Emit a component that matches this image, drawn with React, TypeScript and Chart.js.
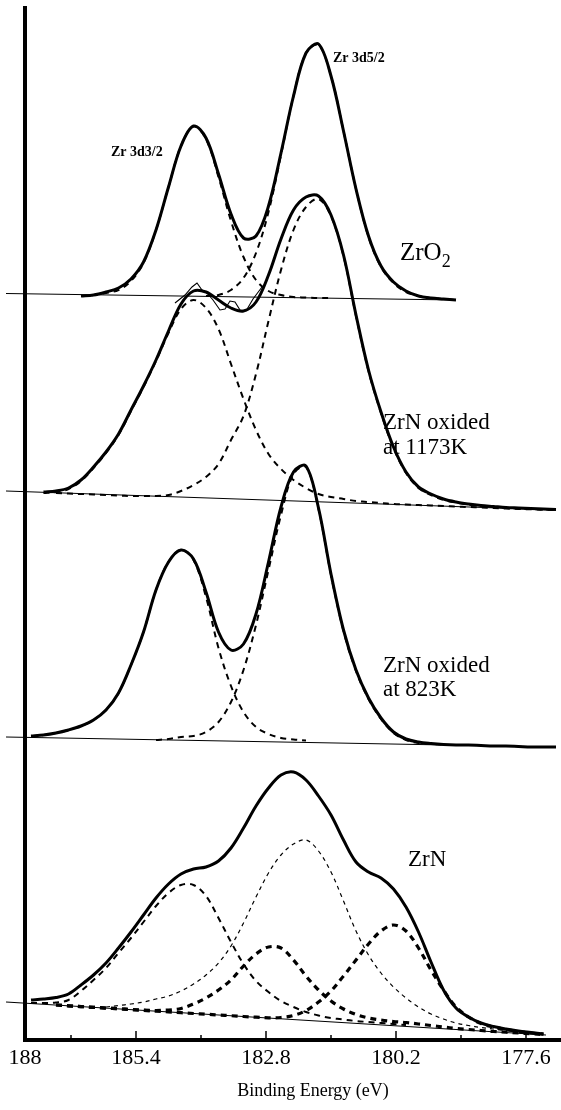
import React, { useEffect, useRef } from "react";
import { Chart, registerables } from "chart.js";

Chart.register(...registerables);

// Binding energy grid (eV) shared by all fitted curves
const ENERGY = [
  187.5, 187.25, 187.0, 186.75, 186.5, 186.25, 186.0, 185.75, 185.5, 185.25,
  185.0, 184.75, 184.5, 184.25, 184.0, 183.75, 183.5, 183.25, 183.0, 182.75,
  182.5, 182.25, 182.0, 181.75, 181.5, 181.25, 181.0, 180.75, 180.5, 180.25,
  180.0, 179.75, 179.5, 179.25, 179.0, 178.75, 178.5, 178.25, 178.0, 177.75,
  177.5, 177.25, 177.0,
];

const _ = null;

// ZrO2 (top spectrum)
const ZRO2_TOTAL = [_, _, _, _, 74.4, 74.5, 74.8, 75.2, 76.1, 77.8, 81.0, 85.3, 89.4, 91.4, 90.2, 86.6, 82.6, 80.2, 80.4, 83.4, 88.7, 94.4, 98.7, 99.6, 96.4, 90.9, 85.1, 80.4, 77.4, 75.8, 74.9, 74.4, 74.2, 74.1, 74.0, _, _, _, _, _, _, _, _];
const ZRO2_3D32 = [_, _, _, _, 74.4, 74.5, 74.7, 75.0, 75.9, 77.7, 81.0, 85.3, 89.4, 91.35, 90.1, 86.3, 81.9, 78.3, 76.0, 74.9, 74.5, 74.3, 74.25, 74.2, 74.2, _, _, _, _, _, _, _, _, _, _, _, _, _, _, _, _, _, _];
const ZRO2_3D52 = [_, _, _, _, _, _, _, _, _, _, _, _, _, _, 74.4, 74.5, 75.0, 76.2, 78.7, 82.8, 88.5, 94.4, 98.7, 99.5, 96.4, 90.9, 85.1, 80.3, 77.3, 75.7, 74.8, 74.4, 74.2, 74.1, 74.0, _, _, _, _, _, _, _, _];
const ZRO2_BASE_E = [188.0, 179.0];
const ZRO2_BASE_I = [74.65, 74.0];

// ZrN oxided at 1173K
const OX1173_TOTAL = [_, 54.8, 54.9, 55.2, 56.0, 57.3, 58.8, 60.6, 63.0, 65.4, 68.0, 70.9, 73.6, 74.9, 74.8, 74.0, 73.2, 72.9, 73.8, 76.5, 80.1, 83.0, 84.3, 84.4, 82.5, 78.5, 72.5, 67.0, 62.8, 59.3, 56.8, 55.3, 54.6, 54.1, 53.8, 53.6, 53.45, 53.35, 53.25, 53.2, 53.15, 53.1, 53.05];
const OX1173_C1 = [_, 54.7, 54.8, 55.1, 55.9, 57.2, 58.7, 60.5, 62.9, 65.3, 67.9, 70.7, 73.1, 74.0, 73.2, 71.1, 67.6, 64.1, 61.0, 58.6, 57.1, 56.0, 55.2, 54.6, 54.3, 54.1, 53.9, 53.8, 53.7, 53.6, 53.55, 53.5, 53.45, 53.4, 53.35, 53.3, 53.25, 53.2, 53.15, 53.1, 53.07, 53.03, 53.0];
const OX1173_C2 = [_, _, 54.7, 54.65, 54.6, 54.55, 54.5, 54.45, 54.4, 54.4, 54.4, 54.5, 54.9, 55.5, 56.3, 57.6, 60.0, 62.4, 66.6, 71.9, 77.0, 81.0, 83.3, 84.1, 82.4, 78.4, 72.4, 66.9, 62.7, 59.2, 56.7, 55.2, 54.5, 54.0, 53.75, 53.55, 53.4, 53.3, 53.2, 53.15, 53.1, 53.05, 53.0];
// measured (raw) trace visible around the first peak of the 1173K spectrum
const OX1173_RAW_E = [184.62, 184.42, 184.28, 184.18, 184.08, 183.98, 183.86, 183.72, 183.62, 183.52, 183.42, 183.32, 183.2, 183.06, 182.88];
const OX1173_RAW_I = [73.7, 74.5, 75.3, 75.7, 75.0, 74.7, 74.0, 73.0, 73.1, 73.9, 73.8, 73.0, 72.9, 74.1, 75.3];
const OX1173_BASE_E = [188.0, 177.0];
const OX1173_BASE_I = [54.9, 53.0];

// ZrN oxided at 823K
const OX823_TOTAL = [30.4, 30.5, 30.7, 31.0, 31.4, 32.0, 33.0, 34.7, 37.5, 40.8, 45.0, 47.8, 49.0, 48.1, 44.8, 40.8, 39.0, 39.6, 42.6, 47.8, 53.3, 56.8, 57.4, 53.2, 46.6, 41.0, 37.0, 34.2, 32.2, 30.8, 30.1, 29.8, 29.65, 29.55, 29.5, 29.5, 29.45, 29.4, 29.4, 29.35, 29.3, 29.3, 29.3];
const OX823_C1 = [30.4, 30.5, 30.7, 31.0, 31.4, 32.0, 33.0, 34.7, 37.5, 40.8, 45.0, 47.8, 49.0, 48.0, 44.3, 39.2, 35.4, 32.8, 31.3, 30.6, 30.2, 30.05, 29.95, _, _, _, _, _, _, _, _, _, _, _, _, _, _, _, _, _, _, _, _];
const OX823_C2 = [_, _, _, _, _, _, _, _, _, _, 30.0, 30.1, 30.3, 30.4, 30.8, 31.8, 33.8, 37.0, 41.5, 47.0, 52.5, 56.6, 57.3, 53.1, 46.5, 40.9, 36.9, 34.1, 32.1, 30.7, 30.0, 29.7, 29.6, 29.55, _, _, _, _, _, _, _, _, _];
const OX823_BASE_E = [188.0, 177.0];
const OX823_BASE_I = [30.3, 29.3];

// ZrN (bottom spectrum)
const ZRN_TOTAL = [4.0, 4.1, 4.25, 4.6, 5.5, 6.5, 7.7, 9.2, 10.8, 12.5, 14.2, 15.6, 16.6, 17.1, 17.3, 17.9, 19.2, 21.2, 23.4, 25.2, 26.5, 26.8, 26.0, 24.4, 22.5, 20.0, 17.8, 16.8, 16.2, 15.1, 13.3, 10.8, 7.8, 5.0, 3.2, 2.3, 1.7, 1.35, 1.1, 0.9, 0.75, 0.6, _];
const ZRN_A = [3.7, 3.7, 3.75, 4.0, 4.9, 6.0, 7.2, 8.7, 10.2, 11.8, 13.4, 14.7, 15.5, 15.5, 14.4, 12.2, 9.8, 7.6, 5.9, 4.8, 3.9, 3.3, 2.8, 2.45, 2.2, 2.05, 1.9, 1.8, 1.7, 1.6, 1.5, _, _, _, _, _, _, _, _, _, _, _, _];
const ZRN_B = [_, _, _, _, _, _, 3.3, 3.45, 3.6, 3.8, 4.1, 4.4, 4.9, 5.6, 6.5, 7.7, 9.4, 11.7, 14.3, 16.7, 18.5, 19.6, 20.0, 18.9, 16.8, 13.9, 10.9, 8.5, 6.7, 5.3, 4.2, 3.3, 2.6, 2.1, 1.7, 1.45, 1.25, 1.1, 0.95, 0.85, 0.75, _, _];
const ZRN_C = [_, _, 3.5, 3.42, 3.34, 3.27, 3.19, 3.12, 3.05, 2.98, 2.95, 3.0, 3.15, 3.6, 4.2, 5.0, 6.0, 7.4, 8.6, 9.3, 9.2, 8.0, 6.4, 5.0, 3.9, 3.1, 2.55, 2.2, 2.0, 1.85, 1.75, 1.6, 1.45, 1.3, 1.15, 1.05, 0.95, 0.85, 0.78, 0.7, 0.62, 0.55, _];
const ZRN_D = [_, _, 3.5, 3.42, 3.34, 3.27, 3.19, 3.12, 3.04, 2.96, 2.88, 2.81, 2.73, 2.65, 2.58, 2.5, 2.43, 2.35, 2.28, 2.22, 2.25, 2.45, 2.95, 3.8, 4.9, 6.4, 8.0, 9.6, 10.9, 11.5, 10.9, 9.2, 7.0, 5.0, 3.3, 2.3, 1.65, 1.3, 1.05, 0.85, 0.7, 0.58, _];
const ZRN_BASE_E = [188.0, 177.2];
const ZRN_BASE_I = [3.8, 0.5];

// Axis
const X_LEFT = 187.62;
const X_RIGHT = 176.9;
const TICK_VALUES = [187.62, 185.4, 182.8, 180.2, 177.6];
const TICK_LABELS = ["188", "185.4", "182.8", "180.2", "177.6"];
const MAJOR_TICKS = [185.4, 182.8, 180.2, 177.6];
const MINOR_TICKS = [186.7, 184.1, 181.5, 178.9];
const Y_MAX = 103.2;

const SERIF = '"Liberation Serif", "Times New Roman", serif';

function pts(arr: (number | null)[]) {
  const out: { x: number; y: number }[] = [];
  arr.forEach((v, i) => {
    if (v !== null) out.push({ x: ENERGY[i], y: v });
  });
  return out;
}
function pairs(es: number[], is: number[]) {
  return es.map((e, i) => ({ x: e, y: is[i] }));
}

const total = (arr: (number | null)[]) => ({
  data: pts(arr),
  borderColor: "#000",
  borderWidth: 3,
  pointRadius: 0,
  tension: 0.35,
  fill: false,
});
const dashed = (arr: (number | null)[], width: number, dash: number[]) => ({
  data: pts(arr),
  borderColor: "#000",
  borderWidth: width,
  borderDash: dash,
  pointRadius: 0,
  tension: 0.35,
  fill: false,
});
const thin = (es: number[], is: number[], clip: boolean) => ({
  data: pairs(es, is),
  borderColor: "#000",
  borderWidth: 1.1,
  pointRadius: 0,
  tension: 0,
  fill: false,
  clip: clip ? undefined : (false as const),
});

const overlay = {
  id: "overlay",
  afterDraw(chart: any) {
    const { ctx, chartArea, scales } = chart;
    const x = scales.x;
    ctx.save();
    ctx.strokeStyle = "#000";
    ctx.lineWidth = 1.5;
    MAJOR_TICKS.forEach((v) => {
      const px = x.getPixelForValue(v);
      ctx.beginPath();
      ctx.moveTo(px, chartArea.bottom);
      ctx.lineTo(px, chartArea.bottom - 9);
      ctx.stroke();
    });
    MINOR_TICKS.forEach((v) => {
      const px = x.getPixelForValue(v);
      ctx.beginPath();
      ctx.moveTo(px, chartArea.bottom);
      ctx.lineTo(px, chartArea.bottom - 5);
      ctx.stroke();
    });

    ctx.fillStyle = "#000";
    ctx.textBaseline = "middle";
    ctx.textAlign = "left";
    ctx.font = `bold 14px ${SERIF}`;
    ctx.fillText("Zr 3d3/2", 111, 152);
    ctx.fillText("Zr 3d5/2", 333, 58);

    ctx.font = `25px ${SERIF}`;
    ctx.fillText("ZrO", 400, 253);
    const w = ctx.measureText("ZrO").width;
    ctx.font = `18px ${SERIF}`;
    ctx.fillText("2", 400 + w, 262);

    ctx.font = `23px ${SERIF}`;
    ctx.fillText("ZrN oxided", 383, 423);
    ctx.fillText("at 1173K", 383, 448);
    ctx.fillText("ZrN oxided", 383, 666);
    ctx.fillText("at 823K", 383, 690);
    ctx.fillText("ZrN", 408, 860);

    ctx.textAlign = "center";
    ctx.font = `18px ${SERIF}`;
    ctx.fillText("Binding Energy (eV)", 313, 1091);
    ctx.restore();
  },
};

export default function App() {
  const ref = useRef<HTMLCanvasElement | null>(null);
  useEffect(() => {
    if (!ref.current) return;
    const chart = new Chart(ref.current, {
      type: "line",
      data: {
        datasets: [
          total(ZRO2_TOTAL),
          total(OX1173_TOTAL),
          total(OX823_TOTAL),
          total(ZRN_TOTAL),
          thin(OX1173_RAW_E, OX1173_RAW_I, true),
          dashed(ZRO2_3D32, 2, [6, 5]),
          dashed(ZRO2_3D52, 2, [6, 5]),
          dashed(OX1173_C1, 2, [6, 5]),
          dashed(OX1173_C2, 2, [6, 5]),
          dashed(OX823_C1, 2, [6, 5]),
          dashed(OX823_C2, 2, [6, 5]),
          dashed(ZRN_A, 2, [6, 5]),
          dashed(ZRN_B, 1.2, [4, 4]),
          dashed(ZRN_C, 3.2, [6, 5]),
          dashed(ZRN_D, 3.2, [6, 5]),
          thin(ZRO2_BASE_E, ZRO2_BASE_I, false),
          thin(OX1173_BASE_E, OX1173_BASE_I, false),
          thin(OX823_BASE_E, OX823_BASE_I, false),
          thin(ZRN_BASE_E, ZRN_BASE_I, false),
        ] as any,
      },
      options: {
        animation: false,
        responsive: false,
        maintainAspectRatio: false,
        devicePixelRatio: 1,
        layout: { padding: { top: 8, left: 0, right: 0, bottom: 0 } },
        plugins: { legend: { display: false }, tooltip: { enabled: false } },
        scales: {
          x: {
            type: "linear",
            reverse: true,
            min: X_RIGHT,
            max: X_LEFT,
            afterBuildTicks: (s: any) => {
              s.ticks = TICK_VALUES.map((v) => ({ value: v }));
            },
            afterFit: (s: any) => {
              s.height = 70;
            },
            grid: { display: false, drawTicks: false },
            border: { display: true, color: "#000", width: 4 },
            ticks: {
              autoSkip: false,
              maxRotation: 0,
              padding: 5,
              color: "#000",
              font: { family: SERIF, size: 22 },
              callback: (_v: any, i: number) => TICK_LABELS[i],
            },
          },
          y: {
            type: "linear",
            min: 0,
            max: Y_MAX,
            afterFit: (s: any) => {
              s.width = 25;
            },
            grid: { display: false, drawTicks: false },
            border: { display: true, color: "#000", width: 4 },
            ticks: { display: false },
          },
        },
      },
      plugins: [overlay],
    });
    return () => chart.destroy();
  }, []);
  return (
    <div style={{ position: "absolute", left: 0, top: 0, width: 561, height: 1110, background: "#fff" }}>
      <canvas ref={ref} width={561} height={1110} style={{ width: 561, height: 1110, display: "block" }} />
    </div>
  );
}
